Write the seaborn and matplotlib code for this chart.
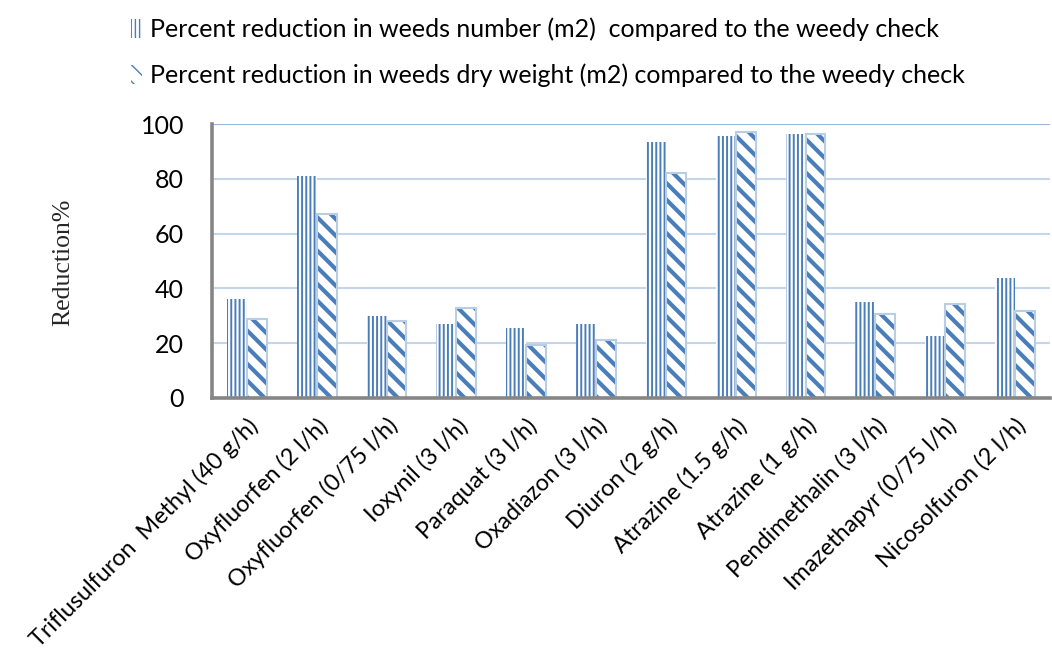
import matplotlib
matplotlib.use("Agg")
import matplotlib.pyplot as plt
from matplotlib.patches import Patch, Rectangle
import seaborn as sns
import pandas as pd

# Herbicide treatments and their weed-control results
treatments = [
    "Triflusulfuron  Methyl (40 g/h)",
    "Oxyfluorfen (2 l/h)",
    "Oxyfluorfen (0/75 l/h)",
    "Ioxynil (3 l/h)",
    "Paraquat (3 l/h)",
    "Oxadiazon (3 l/h)",
    "Diuron (2 g/h)",
    "Atrazine (1.5 g/h)",
    "Atrazine (1 g/h)",
    "Pendimethalin (3 l/h)",
    "Imazethapyr (0/75 l/h)",
    "Nicosolfuron (2 l/h)",
]
reduction_number = [36, 81, 30, 27, 25.5, 27, 93.5, 95.8, 96.4, 35.2, 22.5, 43.7]
reduction_dry_weight = [29, 67, 28, 33, 19.5, 21.3, 82, 97, 96.5, 30.5, 34.3, 31.8]

series_names = [
    "Percent reduction in weeds number (m2)  compared to the weedy check",
    "Percent reduction in weeds dry weight (m2) compared to the weedy check",
]
y_ticks = [0, 20, 40, 60, 80, 100]

df = pd.DataFrame({
    "treatment": treatments * 2,
    "value": reduction_number + reduction_dry_weight,
    "series": [series_names[0]] * len(treatments) + [series_names[1]] * len(treatments),
})

BLUE = "#4a7ebb"
LIGHT = "#b9cde5"
GRID = "#c5d5ea"
SPINE = "#868686"
FS = 18
FS_X = 16.8

sns.set_theme(style="white")
plt.rcParams["font.family"] = ["Lato", "DejaVu Sans"]

fig = plt.figure(figsize=(10.52, 6.6), dpi=100)
ax = fig.add_axes([0.2015, 0.397, 0.7965, 0.415])

sns.barplot(data=df, x="treatment", y="value", hue="series", order=treatments,
            hue_order=series_names, palette=["white", "white"], width=0.57,
            gap=0, dodge=True, legend=False, ax=ax, zorder=3)


def style_bar(p, hatch, hatch_lw):
    p.set_facecolor("white")
    p.set_edgecolor(BLUE)
    p.set_linewidth(0)
    p.set_hatch(hatch)
    if hasattr(p, "set_hatch_linewidth"):
        p.set_hatch_linewidth(hatch_lw)


for p in ax.containers[0]:
    style_bar(p, "||||", 1.4)
for p in ax.containers[1]:
    style_bar(p, "\\\\", 3.0)
    # light outline around the striped bars
    ax.add_patch(Rectangle((p.get_x(), p.get_y()), p.get_width(), p.get_height(),
                           facecolor="none", edgecolor=LIGHT, linewidth=1.5, zorder=4))

ax.set_xlim(-0.5, len(treatments) - 0.5)
ax.set_ylim(0, 100)
ax.set_yticks(y_ticks)
ax.set_yticklabels([str(v) for v in y_ticks], fontsize=FS, color="black")
ax.set_xticks(range(len(treatments)))
ax.set_xticklabels(treatments, rotation=45, ha="right", va="top",
                   rotation_mode="anchor", fontsize=FS_X, color="black")
ax.tick_params(axis="y", length=0, pad=20)
ax.tick_params(axis="x", length=0, pad=12)
ax.set_xlabel("")
ax.set_ylabel("")

ax.yaxis.grid(True, color=GRID, linewidth=1.5, zorder=0)
ax.set_axisbelow(True)
gl = ax.get_ygridlines()
gl[-1].set_color("#9bb6dd")

for side in ("top", "right"):
    ax.spines[side].set_visible(False)
for side in ("left", "bottom"):
    ax.spines[side].set_color(SPINE)
    ax.spines[side].set_linewidth(2.6)
    ax.spines[side].set_zorder(5)

fig.text(0.06, 0.603, "Reduction%", rotation=90, va="center", ha="center",
         fontsize=18.5, family=["Liberation Serif", "DejaVu Serif"])

h1 = Patch(facecolor="white", edgecolor=BLUE, linewidth=0, hatch="||||")
h2 = Patch(facecolor="white", edgecolor=BLUE, linewidth=0, hatch="\\\\")
for h, lw in ((h1, 1.4), (h2, 2.5)):
    if hasattr(h, "set_hatch_linewidth"):
        h.set_hatch_linewidth(lw)
leg = fig.legend(handles=[h1, h2], labels=series_names, loc="upper left",
                 bbox_to_anchor=(0.108, 1.0), frameon=False, fontsize=FS,
                 handlelength=0.42, handleheight=0.8, handletextpad=0.35,
                 labelspacing=0.9, borderpad=0.2)
for t in leg.get_texts():
    t.set_color("black")

fig.savefig("out.png", dpi=100, facecolor="white")
